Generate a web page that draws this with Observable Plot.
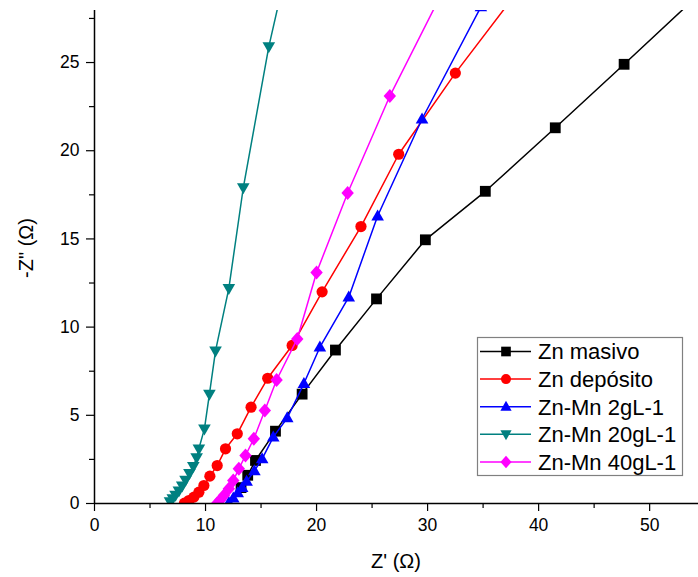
<!DOCTYPE html>
<html><head><meta charset="utf-8">
<script src="https://cdn.jsdelivr.net/npm/d3@7"></script>
<script src="https://cdn.jsdelivr.net/npm/@observablehq/plot@0.6"></script>
<style>
body{margin:0;background:#fff;}
#chart{width:698px;height:577px;}
</style>
</head><body><div id="chart"></div>
<script>
// ---- data ----
const seriesNames = ["Zn masivo", "Zn depósito", "Zn-Mn 2gL-1", "Zn-Mn 20gL-1", "Zn-Mn 40gL-1"];
const seriesColors = ["#000000", "#ff0000", "#0000ff", "#008080", "#ff00ff"];

const masivoX = [13.2, 13.8, 14.5, 16.3, 18.7, 21.7, 25.4, 29.8, 35.2, 41.5, 47.7, 54.0];
const masivoY = [0.9, 1.6, 2.44, 4.1, 6.2, 8.7, 11.6, 14.95, 17.7, 21.3, 24.9, 28.6];

const depositoX = [8.1, 8.5, 8.95, 9.4, 9.85, 10.39, 11.05, 11.8, 12.86, 14.1, 15.6, 17.8, 20.5, 24.0, 27.4, 32.5, 38.8];
const depositoY = [0.02, 0.17, 0.36, 0.64, 1.02, 1.55, 2.15, 3.1, 3.95, 5.46, 7.1, 8.96, 12.0, 15.7, 19.8, 24.4, 29.6];

const mn2X = [12.1, 12.5, 12.9, 13.3, 13.7, 14.4, 15.1, 16.1, 17.36, 18.86, 20.3, 22.9, 25.5, 29.5, 34.8];
const mn2Y = [0.05, 0.3, 0.6, 0.9, 1.25, 1.85, 2.53, 3.76, 4.85, 6.8, 8.86, 11.7, 16.3, 21.8, 28.15];

const mn20X = [6.8, 7.05, 7.3, 7.6, 7.9, 8.2, 8.55, 8.9, 9.2, 9.4, 9.9, 10.35, 10.9, 12.1, 13.4, 15.7, 17.0];
const mn20Y = [0.1, 0.28, 0.48, 0.72, 1.0, 1.32, 1.7, 2.1, 2.6, 3.1, 4.23, 6.2, 8.65, 12.2, 17.9, 25.9, 29.5];

const mn40X = [11.05, 11.35, 11.65, 12.1, 12.5, 13.0, 13.6, 14.35, 15.34, 16.4, 18.26, 20.0, 22.8, 26.6, 31.5];
const mn40Y = [0.02, 0.21, 0.45, 0.83, 1.3, 1.97, 2.72, 3.67, 5.27, 7.0, 9.33, 13.1, 17.6, 23.1, 29.2];

const xTicks = [0, 10, 20, 30, 40, 50];
const xMinorTicks = [5, 15, 25, 35, 45];
const yTicks = [0, 5, 10, 15, 20, 25];
const yMinorTicks = [2.5, 7.5, 12.5, 17.5, 22.5, 27.5];
const xLabel = "Z' (Ω)";
const yLabel = "-Z\" (Ω)";

// ---- symbols ----
function polySymbol(pts) {
  return {draw(ctx, size) {
    const k = Math.sqrt(size / Math.PI) / 6;
    ctx.moveTo(pts[0][0] * k, pts[0][1] * k);
    for (let i = 1; i < pts.length; i++) ctx.lineTo(pts[i][0] * k, pts[i][1] * k);
    ctx.closePath();
  }};
}
const symCircle = {draw(ctx, size) {
  const r = Math.sqrt(size / Math.PI) * 5.6 / 6;
  ctx.moveTo(r, 0); ctx.arc(0, 0, r, 0, 2 * Math.PI);
}};
const symSquare = polySymbol([[-5.4,-5.4],[5.4,-5.4],[5.4,5.4],[-5.4,5.4]]);
const symTriUp = polySymbol([[0,-6.6],[6.3,4.4],[-6.3,4.4]]);
const symTriDown = polySymbol([[0,6.6],[6.3,-4.4],[-6.3,-4.4]]);
const symDiamond = polySymbol([[0,-7],[6.2,0],[0,7],[-6.2,0]]);
const seriesSymbols = [symSquare, symCircle, symTriUp, symTriDown, symDiamond];

const seriesX = [masivoX, depositoX, mn2X, mn20X, mn40X];
const seriesY = [masivoY, depositoY, mn2Y, mn20Y, mn40Y];

const marks = [];
seriesNames.forEach((name, s) => {
  const data = seriesX[s].map((v, i) => ({x: v, y: seriesY[s][i]}));
  marks.push(Plot.line(data, {x: "x", y: "y", stroke: seriesColors[s], strokeWidth: 1.5, clip: true}));
  marks.push(Plot.dot(data, {x: "x", y: "y", fill: seriesColors[s], stroke: "none", r: 6, symbol: seriesSymbols[s], clip: true}));
});

marks.push(Plot.axisX({ticks: xTicks, tickSize: 8, tickPadding: 7, label: null, fontSize: 17.5, stroke: "#000", strokeWidth: 1.2}));
marks.push(Plot.axisX({ticks: xMinorTicks, tickSize: 5, tickFormat: () => "", label: null, stroke: "#000", strokeWidth: 1.2}));
marks.push(Plot.axisY({ticks: yTicks, tickSize: 8, tickPadding: 7, label: null, fontSize: 17.5, stroke: "#000", strokeWidth: 1.2}));
marks.push(Plot.axisY({ticks: yMinorTicks, tickSize: 5, tickFormat: () => "", label: null, stroke: "#000", strokeWidth: 1.2}));
marks.push(Plot.ruleX([0], {stroke: "#000", strokeWidth: 1.5}));
marks.push(Plot.ruleY([0], {stroke: "#000", strokeWidth: 1.5}));

const plot = Plot.plot({
  width: 698, height: 577,
  marginLeft: 94, marginRight: 0, marginTop: 10, marginBottom: 74,
  x: {domain: [0, 54.4], axis: null},
  y: {domain: [0, 27.95], axis: null},
  style: {fontFamily: "'Liberation Sans', Arial, sans-serif", fontSize: "17px", color: "#000", background: "#fff"},
  marks
});
document.getElementById("chart").appendChild(plot);

// ---- axis titles and legend ----
const svg = d3.select(plot);
const ff = "'Liberation Sans', Arial, sans-serif";
svg.append("text").attr("x", 396).attr("y", 568).attr("text-anchor", "middle")
  .attr("font-family", ff).attr("font-size", 20).attr("fill", "#000").text(xLabel);
svg.append("text").attr("transform", "translate(33,248) rotate(-90)").attr("text-anchor", "middle")
  .attr("font-family", ff).attr("font-size", 20).attr("fill", "#000").text(yLabel);

const lg = svg.append("g");
lg.append("rect").attr("x", 477.5).attr("y", 337.5).attr("width", 205).attr("height", 138)
  .attr("fill", "#fff").attr("stroke", "#808080").attr("stroke-width", 1.2);
seriesNames.forEach((name, s) => {
  const cy = 351.5 + s * 27.6;
  lg.append("line").attr("x1", 480).attr("x2", 531).attr("y1", cy).attr("y2", cy)
    .attr("stroke", seriesColors[s]).attr("stroke-width", 1.5);
  lg.append("path").attr("transform", `translate(506,${cy})`)
    .attr("d", d3.symbol().type(seriesSymbols[s]).size(36 * Math.PI * 0.8)())
    .attr("fill", seriesColors[s]);
  lg.append("text").attr("x", 538).attr("y", cy).attr("dy", "0.36em").attr("text-anchor", "start")
    .attr("font-family", ff).attr("font-size", 22).attr("fill", "#000").text(name);
});
</script>
</body></html>
